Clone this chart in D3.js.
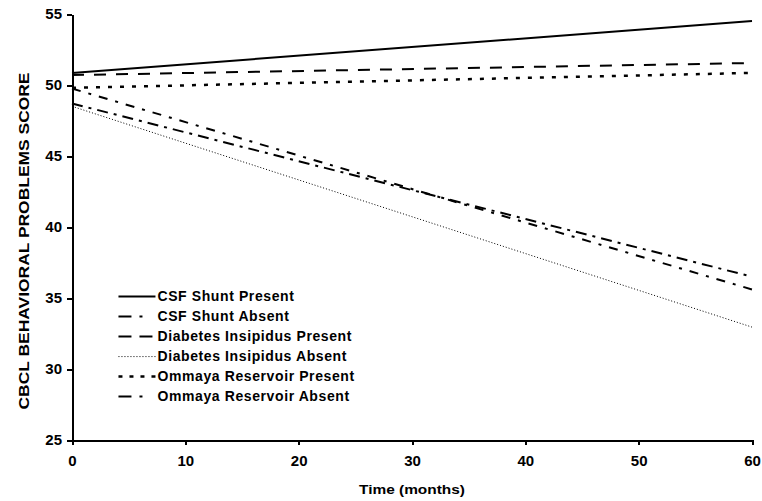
<!DOCTYPE html>
<meta charset="utf-8">
<style>
body { margin: 0; background: #fff; }
.axis text {
  font: bold 15px "Liberation Sans", Arial, sans-serif;
  fill: #000;
}
.axis path,
.axis line {
  fill: none;
  stroke: #000;
  stroke-width: 2;
  shape-rendering: crispEdges;
}
.label {
  font: bold 13px "Liberation Sans", Arial, sans-serif;
  fill: #000;
}
.legend text {
  font: bold 14px "Liberation Sans", Arial, sans-serif;
  letter-spacing: 0.6px;
  fill: #000;
  dominant-baseline: middle;
}
.line { fill: none; stroke: #000; }
</style>
<svg class="chart"></svg>
<script src="https://d3js.org/d3.v7.min.js"></script>
<script>

// months on x axis
var months = [0, 60];
var seriesNames = ["CSF Shunt Present", "CSF Shunt Absent", "Diabetes Insipidus Present",
                   "Diabetes Insipidus Absent", "Ommaya Reservoir Present", "Ommaya Reservoir Absent"];
// score at month 0 and month 60
var csfPresent = [50.85, 54.5];
var csfAbsent = [48.7, 36.5];
var diPresent = [50.7, 51.55];
var diAbsent = [48.5, 32.95];
var ommayaPresent = [49.8, 50.85];
var ommayaAbsent = [49.75, 35.6];
var xTicks = [0, 10, 20, 30, 40, 50, 60];
var yTicks = [25, 30, 35, 40, 45, 50, 55];

var styles = [
  {dash: null, w: 2, legDash: null},
  {dash: "11,6,3,6", w: 2, legDash: "13,8,3,13"},
  {dash: "12,10", w: 2, legDash: "13,8"},
  {dash: "1,2", w: 1, legDash: "1,2"},
  {dash: "4,8", w: 2.5, legDash: "4,7"},
  {dash: "9,8,3,8", w: 2, legDash: "13,8,3,13"}
];
var allValues = [csfPresent, csfAbsent, diPresent, diAbsent, ommayaPresent, ommayaAbsent];

var margin = {top: 14, right: 10, bottom: 61, left: 72},
    width = 762 - margin.left - margin.right,
    height = 501 - margin.top - margin.bottom;

var svg = d3.select(".chart")
    .attr("width", 762)
    .attr("height", 501);
var chart = svg.append("g")
    .attr("transform", "translate(" + margin.left + "," + margin.top + ")");

var x = d3.scaleLinear().domain([0, 60]).range([0, width]);
var y = d3.scaleLinear().domain([25, 55]).range([height, 0]);

chart.append("g")
    .attr("class", "x axis")
    .attr("transform", "translate(0," + height + ")")
    .call(d3.axisBottom(x).tickValues(xTicks).tickSize(5).tickSizeOuter(0).tickPadding(10));

chart.append("g")
    .attr("class", "y axis")
    .call(d3.axisLeft(y).tickValues(yTicks).tickSize(5).tickSizeOuter(0).tickPadding(5));

var line = d3.line()
    .x(function(d, i){ return x(months[i]); })
    .y(function(d){ return y(d); });

chart.append("g")
  .selectAll("path")
  .data(allValues)
  .enter()
  .append("path")
    .attr("class", "line")
    .attr("d", line)
    .attr("stroke-width", function(d, i){ return styles[i].w; })
    .attr("stroke-dasharray", function(d, i){ return styles[i].dash; });

// legend
var legend = chart.append("g")
    .attr("class", "legend")
    .attr("transform", "translate(" + (x(4.1)) + "," + y(35.1) + ")");

var rows = legend.selectAll("g")
  .data(seriesNames)
  .enter()
  .append("g")
    .attr("transform", function(d, i){ return "translate(0," + (i * 20) + ")"; });

rows.append("line")
    .attr("x1", 0).attr("x2", 37)
    .attr("y1", 0).attr("y2", 0)
    .attr("stroke", "#000")
    .attr("stroke-width", function(d, i){ return styles[i].w; })
    .attr("stroke-dasharray", function(d, i){ return styles[i].legDash; });

rows.append("text")
    .attr("x", 39)
    .attr("y", 1)
    .text(function(d){ return d; });

svg.append("text")
    .attr("class", "label")
    .attr("transform", "translate(29," + 241 + ") rotate(-90)")
    .attr("text-anchor", "middle")
    .style("font-size", "14px")
    .attr("textLength", 337)
    .attr("lengthAdjust", "spacingAndGlyphs")
    .text("CBCL BEHAVIORAL PROBLEMS SCORE");

svg.append("text")
    .attr("class", "label")
    .attr("x", margin.left + width / 2)
    .attr("y", 494)
    .attr("text-anchor", "middle")
    .attr("textLength", 106)
    .attr("lengthAdjust", "spacingAndGlyphs")
    .text("Time (months)");
</script>
